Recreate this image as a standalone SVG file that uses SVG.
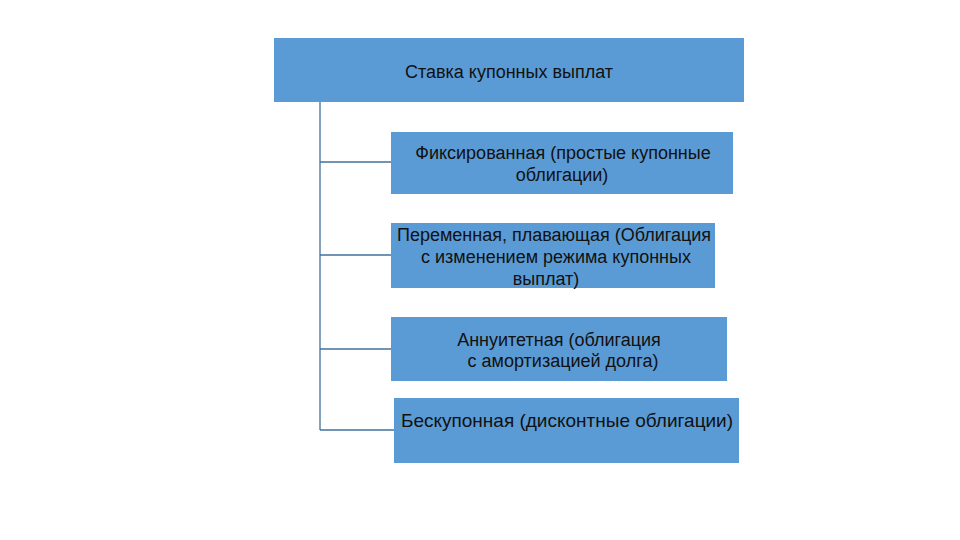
<svg xmlns="http://www.w3.org/2000/svg" width="960" height="540" viewBox="0 0 960 540">
<style>
.box{fill:#5B9BD5;}
.t{font-family:"Liberation Sans",Arial,sans-serif;font-size:18px;fill:#111;text-anchor:middle;}
.c{stroke:#41719C;stroke-width:1.3;fill:none;}
</style>
<rect width="960" height="540" fill="#fff"/>
<g id="connectors">
<path class="c" d="M320 102 V430 M320 162 H391 M320 255 H391 M320 349 H391 M320 430 H394"/>
</g>
<g id="root">
<rect class="box" x="274" y="38" width="470" height="64"/>
<text class="t" x="509" y="78">Ставка купонных выплат</text>
</g>
<g id="fixed">
<rect class="box" x="391" y="132" width="342" height="62"/>
<text class="t" x="563" y="159">Фиксированная (простые купонные</text>
<text class="t" x="562" y="181">облигации)</text>
</g>
<g id="floating">
<rect class="box" x="391" y="223" width="324" height="65"/>
<text class="t" x="554" y="241">Переменная, плавающая (Облигация</text>
<text class="t" x="556" y="263">с изменением режима купонных</text>
<text class="t" x="546" y="285">выплат)</text>
</g>
<g id="annuity">
<rect class="box" x="391" y="317" width="336" height="64"/>
<text class="t" x="559" y="346">Аннуитетная (облигация</text>
<text class="t" x="563" y="367">с амортизацией долга)</text>
</g>
<g id="zero">
<rect class="box" x="394" y="398" width="345" height="65"/>
<text class="t" x="567" y="427" style="font-size:19px">Бескупонная (дисконтные облигации)</text>
</g>
</svg>
